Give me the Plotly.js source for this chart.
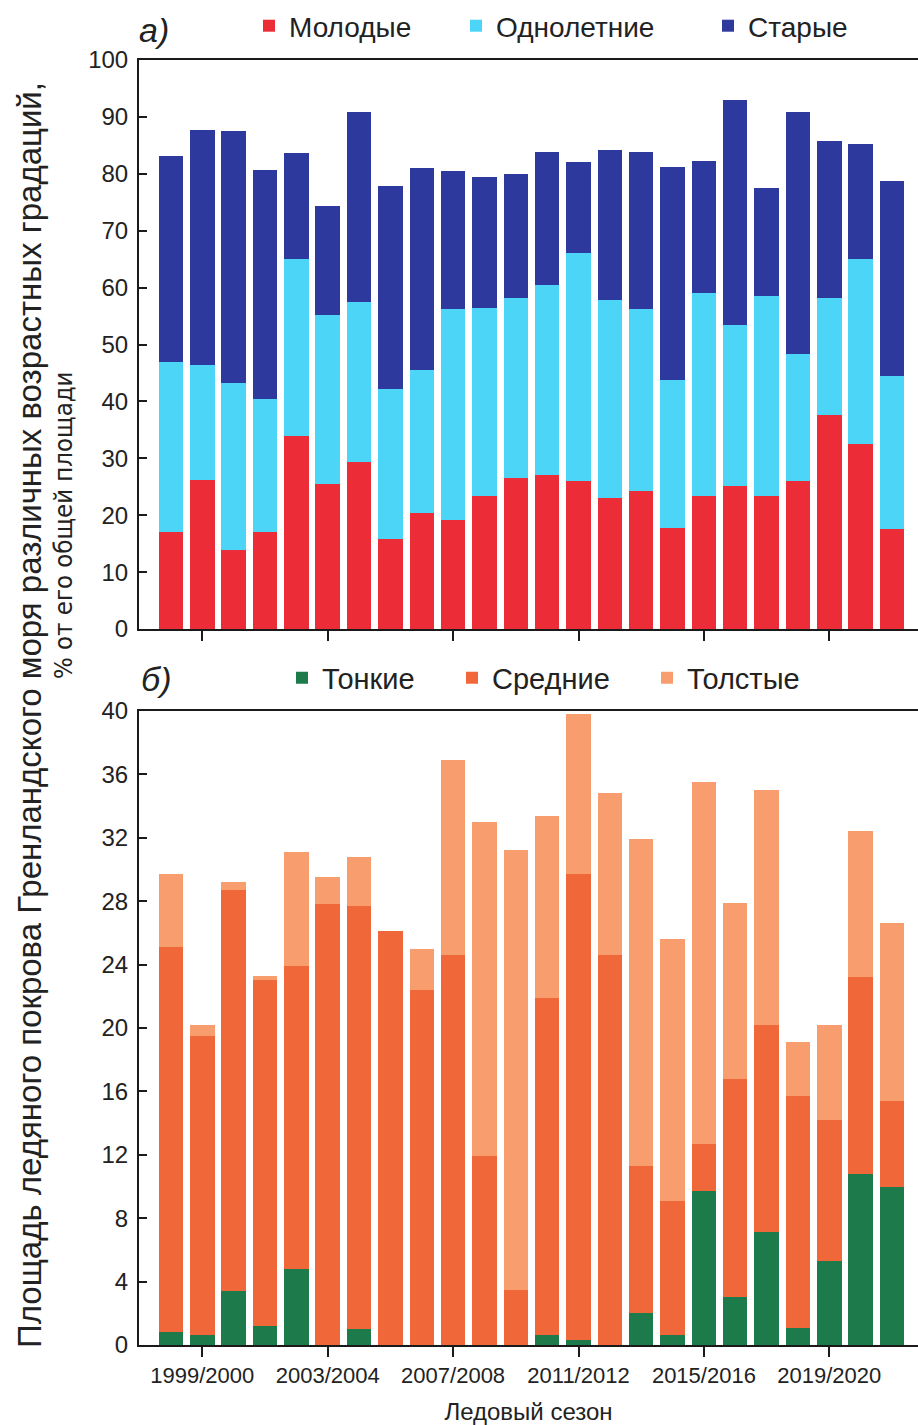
<!DOCTYPE html>
<html>
<head>
<meta charset="utf-8">
<script src="https://cdn.plot.ly/plotly-3.0.1.min.js"></script>
<style>
  html, body { margin: 0; padding: 0; background: #ffffff; }
  #chart { width: 918px; height: 1425px; }
</style>
</head>
<body>
<div id="chart"></div>
<script>
// ---------- DATA ----------
const seasons = [
  '1998/1999','1999/2000','2000/2001','2001/2002','2002/2003','2003/2004',
  '2004/2005','2005/2006','2006/2007','2007/2008','2008/2009','2009/2010',
  '2010/2011','2011/2012','2012/2013','2013/2014','2014/2015','2015/2016',
  '2016/2017','2017/2018','2018/2019','2019/2020','2020/2021','2021/2022'
];
const tickLabels = ['1999/2000','2003/2004','2007/2008','2011/2012','2015/2016','2019/2020'];

// panel a) — age gradations, % of total area (stacked segments)
const young   = [17.1, 26.2, 13.8, 17.0, 33.9, 25.5, 29.4, 15.9, 20.3, 19.1, 23.3, 26.6,
                 27.0, 26.0, 23.0, 24.2, 17.8, 23.4, 25.2, 23.4, 26.0, 37.6, 32.5, 17.6];
const firstYear = [29.9, 20.2, 29.4, 23.4, 31.2, 29.7, 28.0, 26.3, 25.2, 37.1, 33.1, 31.5,
                 33.5, 40.0, 34.9, 32.0, 26.0, 35.7, 28.2, 35.1, 22.3, 20.6, 32.5, 26.9];
const old     = [36.1, 41.3, 44.4, 40.3, 18.6, 19.2, 33.5, 35.7, 35.6, 24.3, 23.1, 21.8,
                 23.3, 16.0, 26.2, 27.7, 37.4, 23.2, 39.6, 19.0, 42.6, 27.6, 20.2, 34.2];

// panel б) — thickness gradations, % of total area (stacked segments)
const thin    = [0.8, 0.6, 3.4, 1.2, 4.8, 0.0, 1.0, 0.0, 0.0, 0.0, 0.0, 0.0,
                 0.6, 0.3, 0.0, 2.0, 0.6, 9.7, 3.0, 7.1, 1.1, 5.3, 10.8, 10.0];
const medium  = [24.3, 18.9, 25.3, 21.8, 19.1, 27.8, 26.7, 26.1, 22.4, 24.6, 11.9, 3.5,
                 21.3, 29.4, 24.6, 9.3, 8.5, 3.0, 13.8, 13.1, 14.6, 8.9, 12.4, 5.4];
const thick   = [4.6, 0.7, 0.5, 0.3, 7.2, 1.7, 3.1, 0.0, 2.6, 12.3, 21.1, 27.7,
                 11.5, 10.1, 10.2, 20.6, 16.5, 22.8, 11.1, 14.8, 3.4, 6.0, 9.2, 11.2];

const seriesNames = ['Молодые', 'Однолетние', 'Старые', 'Тонкие', 'Средние', 'Толстые'];

// ---------- STYLE ----------
const colors = {
  young: '#EC2C36', firstYear: '#4DD5F7', old: '#2E399E',
  thin: '#1D7A4B', medium: '#F0683A', thick: '#F89D6D'
};
const FONT = 'Liberation Sans, Arial, sans-serif';
const NARROW = 'DejaVu Sans Condensed, Liberation Sans, sans-serif';
const AXC = '#1a1a1a';

function bar(y, name, color, xa, ya, lg) {
  return {
    type: 'bar', x: seasons, y: y, name: name,
    marker: { color: color, line: { width: 0 } },
    xaxis: xa, yaxis: ya, legend: lg, hoverinfo: 'x+y+name'
  };
}

const traces = [
  bar(young,     seriesNames[0], colors.young,     'x',  'y',  'legend'),
  bar(firstYear, seriesNames[1], colors.firstYear, 'x',  'y',  'legend2'),
  bar(old,       seriesNames[2], colors.old,       'x',  'y',  'legend3'),
  bar(thin,      seriesNames[3], colors.thin,      'x2', 'y2', 'legend4'),
  bar(medium,    seriesNames[4], colors.medium,    'x2', 'y2', 'legend5'),
  bar(thick,     seriesNames[5], colors.thick,     'x2', 'y2', 'legend6')
];

const xRange = [-1.02, 23.83];
function xAxis(anchor, labels) {
  return {
    anchor: anchor, domain: [0, 1], type: 'category',
    range: xRange, tickmode: 'array', tickvals: tickLabels, ticktext: tickLabels,
    showticklabels: labels, ticks: 'outside', ticklen: 10, tickwidth: 2, tickcolor: AXC,
    showline: true, linewidth: 2, linecolor: AXC, mirror: true,
    showgrid: false, zeroline: false,
    tickfont: { family: FONT, size: 22, color: '#222' }
  };
}
function yAxis(anchor, domain, range, dtick) {
  return {
    anchor: anchor, domain: domain, range: range, dtick: dtick, tick0: 0,
    ticks: 'inside', ticklen: 8, tickwidth: 2, tickcolor: AXC,
    showline: true, linewidth: 2, linecolor: AXC,
    showgrid: false, zeroline: false, ticklabelstandoff: 4,
    tickfont: { family: FONT, size: 24, color: '#222' }
  };
}
const H = 1425, W = 918;
const L = 139, T = 60, B = 80;
const PW = W - L, PH = H - T - B;
function legendAt(px, py, size) {
  return {
    xref: 'container', yref: 'container', x: px / W, y: 1 - py / H,
    xanchor: 'left', yanchor: 'middle', orientation: 'h',
    bgcolor: 'rgba(0,0,0,0)', borderwidth: 0,
    font: { family: FONT, size: size, color: '#222' }
  };
}
// paper-coordinate helpers for annotations
const px2x = px => (px - L) / PW;
const py2y = py => (H - B - py) / PH;

const layout = {
  width: W, height: H,
  margin: { l: L, r: 0, t: T, b: B, autoexpand: false },
  paper_bgcolor: '#ffffff', plot_bgcolor: '#ffffff',
  barmode: 'stack', bargap: 0.22,
  font: { family: FONT, color: '#222' },
  xaxis: xAxis('y', false),
  yaxis: yAxis('x', [py2y(629), 1], [0, 100], 10),
  xaxis2: Object.assign(xAxis('y2', true), {
    title: { text: 'Ледовый сезон', font: { family: FONT, size: 24, color: '#222' }, standoff: 16 }
  }),
  yaxis2: yAxis('x2', [0, py2y(711)], [0, 40], 4),
  showlegend: true,
  legend:  legendAt(249, 26, 28),
  legend2: legendAt(456, 26, 28),
  legend3: legendAt(708, 26, 28),
  legend4: legendAt(282, 678, 29),
  legend5: legendAt(452, 678, 29),
  legend6: legendAt(647, 678, 29),
  annotations: [
    { text: '<i>а)</i>', xref: 'paper', yref: 'paper', x: px2x(137), y: py2y(30),
      xanchor: 'left', yanchor: 'middle', showarrow: false,
      font: { family: FONT, size: 34, color: '#222' } },
    { text: '<i>б)</i>', xref: 'paper', yref: 'paper', x: px2x(139), y: py2y(679),
      xanchor: 'left', yanchor: 'middle', showarrow: false,
      font: { family: FONT, size: 34, color: '#222' } },
    { text: 'Площадь ледяного покрова Гренландского моря различных возрастных градаций,',
      xref: 'paper', yref: 'paper', x: px2x(29), y: py2y(715),
      xanchor: 'center', yanchor: 'middle', textangle: -90, showarrow: false,
      font: { family: FONT, size: 33, color: '#222' } },
    { text: '% от его общей площади',
      xref: 'paper', yref: 'paper', x: px2x(63), y: py2y(525),
      xanchor: 'center', yanchor: 'middle', textangle: -90, showarrow: false,
      font: { family: NARROW, size: 25.5, color: '#222' } }
  ]
};

Plotly.newPlot('chart', traces, layout, { displayModeBar: false, staticPlot: true });
</script>
</body>
</html>
